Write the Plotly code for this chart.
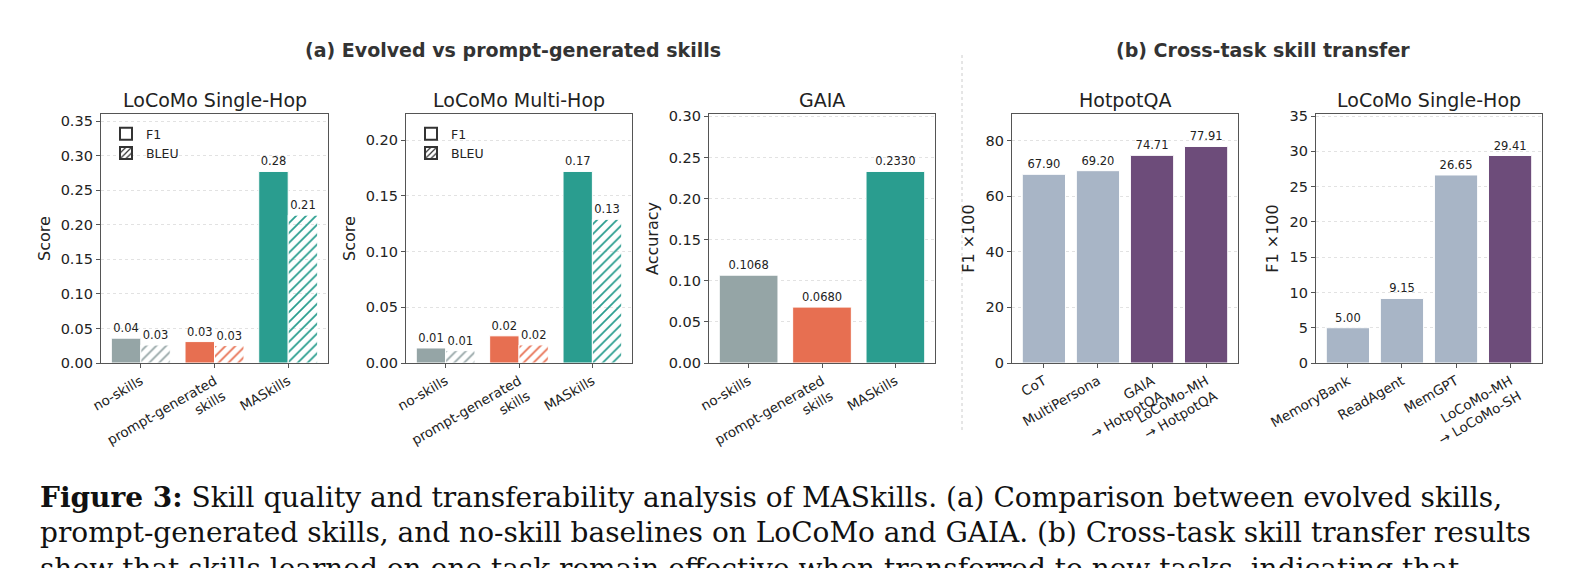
import plotly.graph_objects as go

# ---------------- data ----------------
cats_a = ["no-skills", "prompt-generated<br>skills", "MASkills"]
sh_f1 = [0.0359, 0.031, 0.2772]
sh_bleu = [0.026, 0.0252, 0.214]
mh_f1 = [0.0135, 0.0244, 0.172]
mh_bleu = [0.0111, 0.0162, 0.129]
gaia_acc = [0.1068, 0.0680, 0.2330]

cats_hotpot = ["CoT", "MultiPersona", "GAIA<br>→ HotpotQA", "LoCoMo-MH<br>→ HotpotQA"]
hotpot_f1 = [67.90, 69.20, 74.71, 77.91]
cats_locomo = ["MemoryBank", "ReadAgent", "MemGPT", "LoCoMo-MH<br>→ LoCoMo-SH"]
locomo_f1 = [5.00, 9.15, 26.65, 29.41]

colors_a = ["#95A5A6", "#E76F51", "#2A9D8F"]
base_col = "#A8B5C6"
ours_col = "#6D4C7A"
colors_hotpot = [base_col, base_col, ours_col, ours_col]
colors_locomo = [base_col, base_col, base_col, ours_col]

W, H = 1586, 568
OFF = 8  # page body margin compensation
FONT = "DejaVu Sans"

def px_x(p):
    return (p - OFF) / W

def px_y(p):
    return 1 - (p - OFF) / H

# axis domains (pixels)
panels = [
    (101, 328), (406, 632), (709, 935), (1012, 1238), (1316, 1542)
]
ytop, ybot = 114, 363

fig = go.Figure()

txtfont = dict(family=FONT, size=11.5, color="#222")

def f1_trace(x, y, colors, ax, fmt):
    return go.Bar(x=x, y=y, marker=dict(color=colors, line=dict(color="white", width=1)),
                  texttemplate="%{y:" + fmt + "}", textposition="outside", textfont=txtfont,
                  constraintext="none", cliponaxis=False, showlegend=False,
                  xaxis="x" + ax, yaxis="y" + ax, hoverinfo="skip")

def bleu_trace(x, y, colors, ax, fmt):
    return go.Bar(x=x, y=y,
                  marker=dict(color=colors, line=dict(color="white", width=1),
                              pattern=dict(shape="/", fillmode="replace", bgcolor=colors,
                                           fgcolor="white", size=7, solidity=0.25)),
                  texttemplate="%{y:" + fmt + "}", textposition="outside", textfont=txtfont,
                  constraintext="none", cliponaxis=False, showlegend=False,
                  xaxis="x" + ax, yaxis="y" + ax, hoverinfo="skip")

fig.add_trace(f1_trace(cats_a, sh_f1, colors_a, "", ".2f"))
fig.add_trace(bleu_trace(cats_a, sh_bleu, colors_a, "", ".2f"))
fig.add_trace(f1_trace(cats_a, mh_f1, colors_a, "2", ".2f"))
fig.add_trace(bleu_trace(cats_a, mh_bleu, colors_a, "2", ".2f"))
fig.add_trace(f1_trace(cats_a, gaia_acc, colors_a, "3", ".4f"))
fig.add_trace(f1_trace(cats_hotpot, hotpot_f1, colors_hotpot, "4", ".2f"))
fig.add_trace(f1_trace(cats_locomo, locomo_f1, colors_locomo, "5", ".2f"))

# legend dummy traces on hidden axis
for lg in ["legend", "legend2"]:
    fig.add_trace(go.Bar(x=[0], y=[0], name="F1", legend=lg, xaxis="x6", yaxis="y6",
                         marker=dict(color="white", line=dict(color="#333", width=1))))
    fig.add_trace(go.Bar(x=[0], y=[0], name="BLEU", legend=lg, xaxis="x6", yaxis="y6",
                         marker=dict(color="white", line=dict(color="#333", width=1),
                                     pattern=dict(shape="/", fillmode="replace", bgcolor="white",
                                                  fgcolor="#333", size=5, solidity=0.3))))

ncats = [len(cats_a), len(cats_a), len(cats_a), len(cats_hotpot), len(cats_locomo)]
yranges = [max(sh_f1) * 1.3, max(mh_f1) * 1.3, max(gaia_acc) * 1.3,
           max(hotpot_f1) * 1.15, max(locomo_f1) * 1.2]
ydticks = [0.05, 0.05, 0.05, 20, 5]
ytickfmt = [".2f", ".2f", ".2f", "d", "d"]
ytitles = ["Score", "Score", "Accuracy", "F1 ×100", "F1 ×100"]
titles = ["LoCoMo Single-Hop", "LoCoMo Multi-Hop", "GAIA", "HotpotQA", "LoCoMo Single-Hop"]

layout = dict(
    width=W, height=H, margin=dict(l=0, r=0, t=0, b=0, autoexpand=False),
    paper_bgcolor="white", plot_bgcolor="white",
    barmode="group", bargap=0.2, bargroupgap=0,
    font=dict(family=FONT, color="#222"),
    xaxis6=dict(domain=[0, 0.001], visible=False, automargin=False),
    yaxis6=dict(domain=[0, 0.001], visible=False, anchor="x6", automargin=False),
)

annotations = []
for i, (x0, x1) in enumerate(panels):
    sfx = "" if i == 0 else str(i + 1)
    n = ncats[i]
    pad = 0.05 * (n - 0.2)  # matplotlib-like 5% margins around bar extents
    layout["xaxis" + sfx] = dict(
        domain=[px_x(x0), px_x(x1)], anchor="y" + sfx, automargin=False,
        range=[-0.4 - pad, n - 0.6 + pad],
        showline=True, mirror=True, linecolor="#555", linewidth=1.3,
        ticks="outside", ticklen=4, tickcolor="#555", tickangle=-30,
        tickfont=dict(family=FONT, size=13.5, color="#222"), showgrid=False,
    )
    layout["yaxis" + sfx] = dict(
        domain=[px_y(ybot), px_y(ytop)], anchor="x" + sfx, automargin=False,
        range=[0, yranges[i]], dtick=ydticks[i], tickformat=ytickfmt[i], tick0=0,
        showline=True, mirror=True, linecolor="#555", linewidth=1.3,
        ticks="outside", ticklen=4, tickcolor="#555",
        tickfont=dict(family=FONT, size=14.5, color="#222"),
        showgrid=True, gridcolor="#e2e2e2", griddash="dot", gridwidth=1,
        zeroline=False,
        title=dict(text=ytitles[i], font=dict(family=FONT, size=16, color="#222"), standoff=6),
    )
    annotations.append(dict(
        text=titles[i], x=px_x((x0 + x1) / 2), y=px_y(100), xref="paper", yref="paper",
        xanchor="center", yanchor="middle", showarrow=False,
        font=dict(family=FONT, size=19, color="#222")))

annotations.append(dict(text="<b>(a) Evolved vs prompt-generated skills</b>", x=px_x(513), y=px_y(50),
                        xref="paper", yref="paper", xanchor="center", yanchor="middle", showarrow=False,
                        font=dict(family=FONT, size=19, color="#333")))
annotations.append(dict(text="<b>(b) Cross-task skill transfer</b>", x=px_x(1263), y=px_y(50),
                        xref="paper", yref="paper", xanchor="center", yanchor="middle", showarrow=False,
                        font=dict(family=FONT, size=19, color="#333")))

cap_font = dict(family="DejaVu Serif", size=28, color="#111")
cap_lines = [
    "<b>Figure 3:</b> Skill quality and transferability analysis of MASkills. (a) Comparison between evolved skills,",
    "prompt-generated skills, and no-skill baselines on LoCoMo and GAIA. (b) Cross-task skill transfer results",
    "show that skills learned on one task remain effective when transferred to new tasks, indicating that",
]
for k, (line, yc) in enumerate(zip(cap_lines, [497, 532, 568])):
    annotations.append(dict(text=line, x=px_x(38), y=px_y(yc), xref="paper", yref="paper",
                            xanchor="left", yanchor="middle", showarrow=False, font=cap_font))

layout["annotations"] = annotations
layout["shapes"] = [dict(type="line", xref="paper", yref="paper", x0=px_x(962), x1=px_x(962),
                         y0=px_y(430), y1=px_y(55), line=dict(color="#cccccc", width=1, dash="dot"))]

legend_style = dict(bgcolor="rgba(255,255,255,0)", borderwidth=0, font=dict(family=FONT, size=12.5, color="#222"),
                    xanchor="left", yanchor="top", tracegroupgap=0, itemsizing="constant")
layout["legend"] = dict(x=px_x(106), y=px_y(119), **legend_style)
layout["legend2"] = dict(x=px_x(411), y=px_y(119), **legend_style)

fig.update_layout(**layout)
fig.write_html("out.html")
